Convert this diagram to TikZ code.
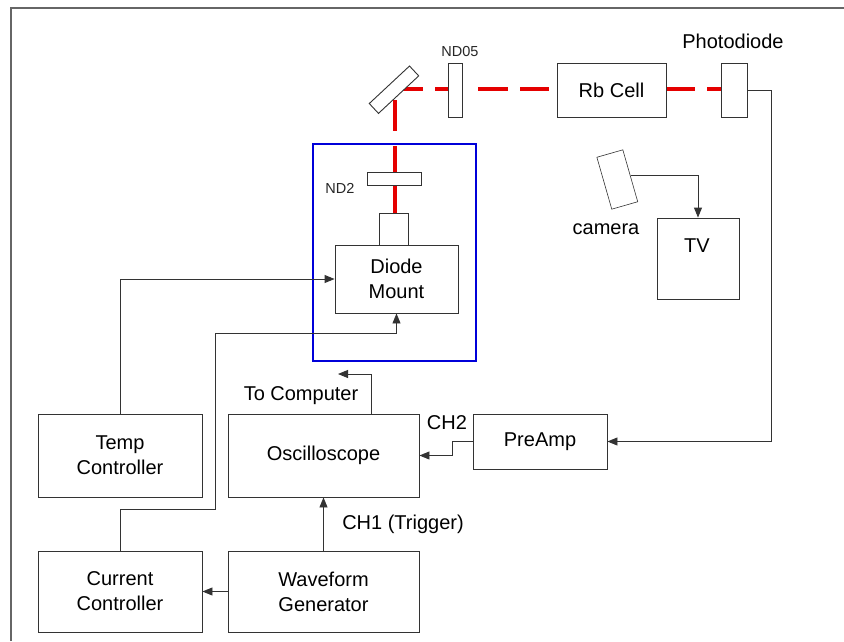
\documentclass[tikz,border=0pt]{standalone}
\usepackage{fontspec}
\setmainfont{Liberation Sans}
\usetikzlibrary{arrows.meta,calc}
\begin{document}
\begin{tikzpicture}[x=1pt,y=-1pt,
  box/.style={draw=black!80,line width=0.9pt,fill=white,inner sep=0pt},
  lbl/.style={font=\fontsize{20}{23}\selectfont,align=center,inner sep=0pt},
  small/.style={font=\fontsize{14.5}{17}\selectfont,inner sep=0pt,text=black!85},
  wire/.style={draw=black!80,line width=0.9pt},
  arr/.style={wire,-{Triangle[length=10pt,width=8pt]}},
  beam/.style={draw=red!90!black,line width=3.6pt}]
\useasboundingbox (0,0) rectangle (844,641);
\fill[white] (0,0) rectangle (844,641);
\draw[black!60,line width=1.3pt] (11,641) -- (11,8) -- (844,8);

% blue enclosure
\node[draw=blue!85!black,line width=2.6pt,minimum width=163pt,minimum height=217pt,inner sep=0pt] (encl) at (394.5,252.5) {};

% laser beam
\draw[beam] (403,89) -- (423,89);
\draw[beam] (435,89) -- (462,89);
\draw[beam] (478,89) -- (508,89);
\draw[beam] (520,89) -- (549,89);
\draw[beam] (666,89) -- (695,89);
\draw[beam] (707,89) -- (721,89);
\draw[beam] (395,100) -- (395,131);
\draw[beam] (395,146) -- (395,213);

% optics
\node[box,minimum width=55pt,minimum height=13.5pt,rotate=43] (mirror) at (394,89.7) {};
\node[box,minimum width=14pt,minimum height=54pt] (nd05) at (455,90) {};
\node[small] at (460,52) {ND05};
\node[box,minimum width=109pt,minimum height=54pt,lbl] (rb) at (611.5,90) {Rb Cell};
\node[box,minimum width=26pt,minimum height=54pt] (pd) at (734,90) {};
\node[lbl] at (733,41) {Photodiode};
\node[box,minimum width=54pt,minimum height=13pt] (nd2) at (394,178.5) {};
\node[small] at (340,188) {ND2};
\node[box,minimum width=29pt,minimum height=32pt] (laser) at (393.5,229) {};
\node[box,minimum width=123pt,minimum height=68pt,lbl] (dm) at (396.5,279) {Diode\\[2pt]Mount};

% camera and TV
\node[box,line width=0.6pt,minimum width=27pt,minimum height=54pt,rotate=16] (cam) at (617.3,179.5) {};
\node[lbl] at (606,229) {camera};
\node[box,minimum width=82pt,minimum height=81pt] (tv) at (698,258.5) {};
\node[lbl] at (697,246) {TV};

% instruments
\node[box,minimum width=164pt,minimum height=83pt,lbl] (temp) at (120,455.5) {Temp\\[2pt]Controller};
\node[box,minimum width=191pt,minimum height=83pt,lbl] (osc) at (323.5,455.5) {Oscilloscope};
\node[box,minimum width=134pt,minimum height=55pt,lbl] (pre) at (540,441.5) {PreAmp};
\node[box,minimum width=164pt,minimum height=81pt,lbl] (cur) at (120,591.5) {Current\\[2pt]Controller};
\node[box,minimum width=191pt,minimum height=81pt,lbl] (wf) at (323.5,591.5) {Waveform\\[2pt]Generator};

\node[lbl] at (301,396) {To Computer};
\node[lbl] at (447,423) {CH2};
\node[lbl] at (403,524) {CH1 (Trigger)};

% connectors
\coordinate (pdr) at (771,90);
\draw[arr] (pd.east) -- (pdr) |- (pre.east);
\draw[arr] (pre.west) -- ++(-20,0) |- (osc.east);
\coordinate (oscT) at (371,414);
\coordinate (tocomp) at (338,374);
\draw[arr] (oscT) |- (tocomp);
\draw[arr] (wf.north) -- (osc.south);
\draw[arr] (wf.west) -- (cur.east);
\draw[arr] (temp.north) |- (dm.west);
\coordinate (cbend) at (215,333);
\draw[arr] (cur.north) -- ++(0,-41) -| (cbend) -| (dm.south);
\draw[arr] (cam.east) -| (tv.north);
\end{tikzpicture}
\end{document}
